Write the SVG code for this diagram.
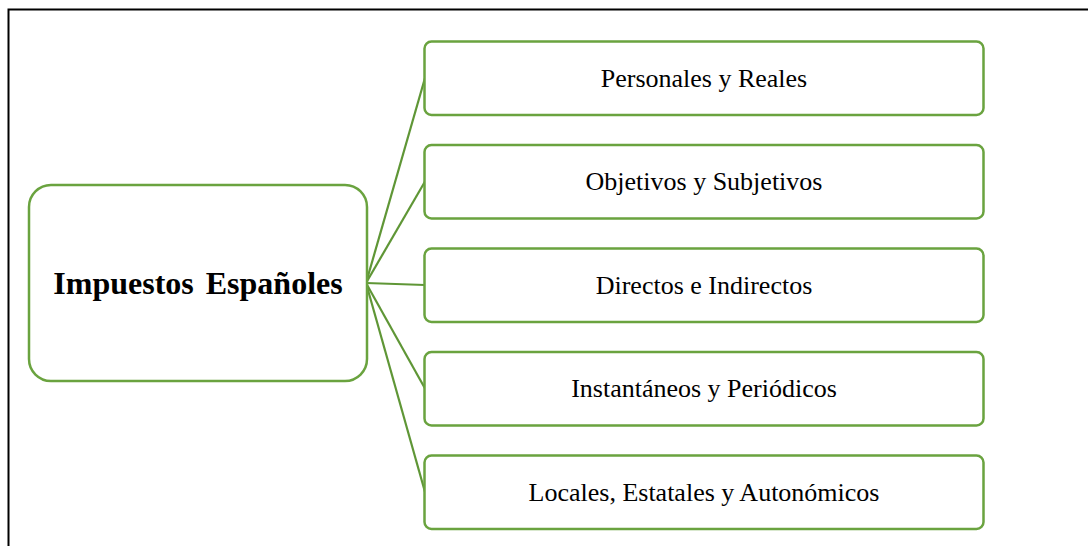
<svg xmlns="http://www.w3.org/2000/svg" width="1088" height="546" viewBox="0 0 1088 546">
<style>
.box{fill:#fff;stroke:#6AA33F;stroke-width:2.5}
.con{stroke:#5F9636;stroke-width:2.2;fill:none}
.t{font-family:"Liberation Serif","Times New Roman",serif;font-size:26px;fill:#000;text-anchor:middle}
.tb{font-family:"Liberation Serif","Times New Roman",serif;font-size:32px;font-weight:bold;fill:#000;text-anchor:middle;word-spacing:4px}
</style>
<rect width="1088" height="546" fill="#fff"/>
<path d="M8.5,546 V9.5 H1088" fill="none" stroke="#000" stroke-width="2"/>
<g id="connectors">
<line class="con" x1="366" y1="283" x2="425" y2="78"/>
<line class="con" x1="366" y1="283" x2="425" y2="181.5"/>
<line class="con" x1="366" y1="283" x2="425" y2="285"/>
<line class="con" x1="366" y1="283" x2="425" y2="388.5"/>
<line class="con" x1="366" y1="283" x2="425" y2="492"/>
</g>
<g id="root">
<rect class="box" x="29" y="185" width="338" height="196" rx="22"/>
<text class="tb" x="198" y="294">Impuestos Españoles</text>
</g>
<g id="n1">
<rect class="box" x="424.5" y="41.5" width="559" height="73.5" rx="7"/>
<text class="t" x="704" y="87">Personales y Reales</text>
</g>
<g id="n2">
<rect class="box" x="424.5" y="145" width="559" height="73.5" rx="7"/>
<text class="t" x="704" y="190">Objetivos y Subjetivos</text>
</g>
<g id="n3">
<rect class="box" x="424.5" y="248.5" width="559" height="73.5" rx="7"/>
<text class="t" x="704" y="294">Directos e Indirectos</text>
</g>
<g id="n4">
<rect class="box" x="424.5" y="352" width="559" height="73.5" rx="7"/>
<text class="t" x="704" y="397">Instantáneos y Periódicos</text>
</g>
<g id="n5">
<rect class="box" x="424.5" y="455.5" width="559" height="73.5" rx="7"/>
<text class="t" x="704" y="501">Locales, Estatales y Autonómicos</text>
</g>
</svg>
